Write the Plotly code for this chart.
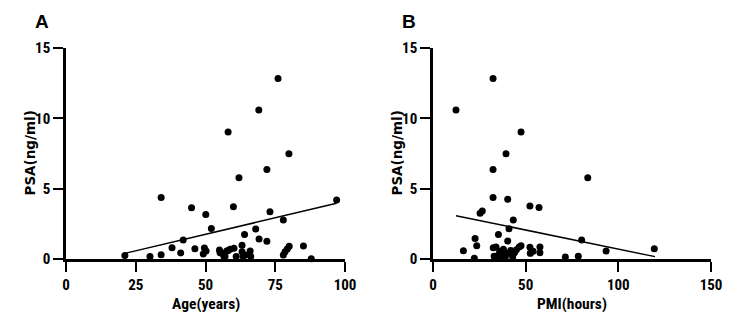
import plotly.graph_objects as go

# Panel A: Age vs PSA
age_years = [76.0, 69.1, 58.1, 79.9, 72.0, 62.0, 34.1, 97.0, 45.0, 60.0, 73.1, 50.1,
             77.9, 52.1, 68.0, 64.0, 69.2, 42.0, 72.0, 38.0, 41.1, 34.1, 30.1, 21.1,
             46.2, 49.6, 50.2, 49.2, 55.0, 56.1, 57.6, 58.8, 57.0, 60.2, 63.1, 61.0,
             63.1, 64.2, 66.0, 66.2, 63.5, 77.9, 78.5, 79.3, 80.0, 85.1, 87.9, 56.6,
             58.0, 55.2]
psa_age = [12.84, 10.6, 9.03, 7.49, 6.37, 5.78, 4.38, 4.19, 3.65, 3.72, 3.36, 3.17,
           2.77, 2.16, 2.13, 1.75, 1.42, 1.35, 1.26, 0.80, 0.43, 0.31, 0.17, 0.24,
           0.73, 0.78, 0.57, 0.36, 0.64, 0.40, 0.57, 0.69, 0.17, 0.76, 0.97, 0.17,
           0.52, 0.28, 0.57, 0.17, 0.17, 0.28, 0.52, 0.71, 0.90, 0.92, 0.02, 0.20,
           0.59, 0.45]
fit_age_x = [21.1, 97.0]
fit_age_y = [0.40, 3.96]

# Panel B: PMI vs PSA
pmi_hours = [32.4, 12.4, 47.5, 39.4, 32.4, 83.5, 32.4, 40.3, 52.3, 57.2, 25.4, 26.6,
             43.3, 41.0, 35.3, 40.3, 22.7, 23.6, 16.4, 22.3, 80.2, 93.4, 119.4, 71.4,
             78.4, 57.7, 57.7, 32.5, 34.0, 36.0, 38.0, 39.0, 41.0, 43.0, 42.0, 45.0,
             46.5, 47.5, 52.3, 54.0, 33.0, 35.0, 37.0, 38.5, 44.0, 36.5, 52.5]
psa_pmi = [12.84, 10.6, 9.03, 7.49, 6.37, 5.78, 4.38, 4.24, 3.77, 3.67, 3.25, 3.41,
           2.77, 2.15, 1.75, 1.28, 1.45, 0.95, 0.59, 0.05, 1.35, 0.57, 0.73, 0.14,
           0.19, 0.85, 0.45, 0.80, 0.85, 0.55, 0.70, 0.15, 0.40, 0.15, 0.60, 0.65,
           0.85, 0.95, 0.83, 0.55, 0.20, 0.25, 0.35, 0.50, 0.45, 0.10, 0.40]
fit_pmi_x = [12.4, 119.8]
fit_pmi_y = [3.08, 0.17]

x_ticks_a = [0, 25, 50, 75, 100]
x_ticks_b = [0, 50, 100, 150]
y_ticks = [0, 5, 10, 15]

COND = "Roboto Condensed, Open Sans Condensed, sans-serif"

fig = go.Figure()
mk = dict(color="black", size=7)
fig.add_trace(go.Scatter(x=age_years, y=psa_age, mode="markers", marker=mk,
                         cliponaxis=False, xaxis="x", yaxis="y", showlegend=False))
fig.add_trace(go.Scatter(x=fit_age_x, y=fit_age_y, mode="lines",
                         line=dict(color="black", width=1.5),
                         xaxis="x", yaxis="y", showlegend=False))
fig.add_trace(go.Scatter(x=pmi_hours, y=psa_pmi, mode="markers", marker=mk,
                         cliponaxis=False, xaxis="x2", yaxis="y2", showlegend=False))
fig.add_trace(go.Scatter(x=fit_pmi_x, y=fit_pmi_y, mode="lines",
                         line=dict(color="black", width=1.5),
                         xaxis="x2", yaxis="y2", showlegend=False))

L, R, T, B = 66, 39, 48, 59
W, H = 750, 318
pw = W - L - R
ph = H - T - B
da = [0, (345 - L) / pw]
db = [(433 - L) / pw, 1]

tickfont = dict(family=COND, size=15, color="black", weight="bold")
titlefont = dict(family=COND, size=15.5, color="black", weight="bold")

axcommon = dict(showline=True, linewidth=2.5, linecolor="black", ticks="outside",
                ticklen=10, tickwidth=2, tickcolor="black", showgrid=False,
                zeroline=False, tickfont=tickfont, automargin=False)

def px_x(p):
    return (p - L) / pw

def px_y(p):
    return 1 - (p - T) / ph

ytitle_font = dict(family="DejaVu Sans, sans-serif", size=13.5, color="black", weight="bold")
panel_font = dict(family="Liberation Sans, Arial, sans-serif", size=19, color="black", weight="bold")

def ann(text, x, y, font, angle=0):
    return dict(text=text, textangle=angle, x=px_x(x), y=px_y(y), xref="paper", yref="paper",
                showarrow=False, xanchor="center", yanchor="middle", font=font)

fig.update_layout(
    width=W, height=H,
    margin=dict(l=L, r=R, t=T, b=B, autoexpand=False),
    plot_bgcolor="white", paper_bgcolor="white",
    xaxis=dict(domain=da, range=[0, 100], tickvals=x_ticks_a, anchor="y", **axcommon),
    yaxis=dict(domain=[0, 1], range=[0, 15], tickvals=y_ticks, anchor="x", **axcommon),
    xaxis2=dict(domain=db, range=[0, 150], tickvals=x_ticks_b, anchor="y2", **axcommon),
    yaxis2=dict(domain=[0, 1], range=[0, 15], tickvals=y_ticks, anchor="x2", **axcommon),
    annotations=[
        ann("Age(years)", 205.7, 304, titlefont),
        ann("PMI(hours)", 572, 304, titlefont),
        ann("PSA(ng/ml)", 29, 153.5, ytitle_font, -90),
        ann("PSA(ng/ml)", 29 + 367, 153.5, ytitle_font, -90),
        ann("A", 42, 21.5, panel_font),
        ann("B", 409, 21.5, panel_font),
    ],
)

fig.write_html("out.html")
